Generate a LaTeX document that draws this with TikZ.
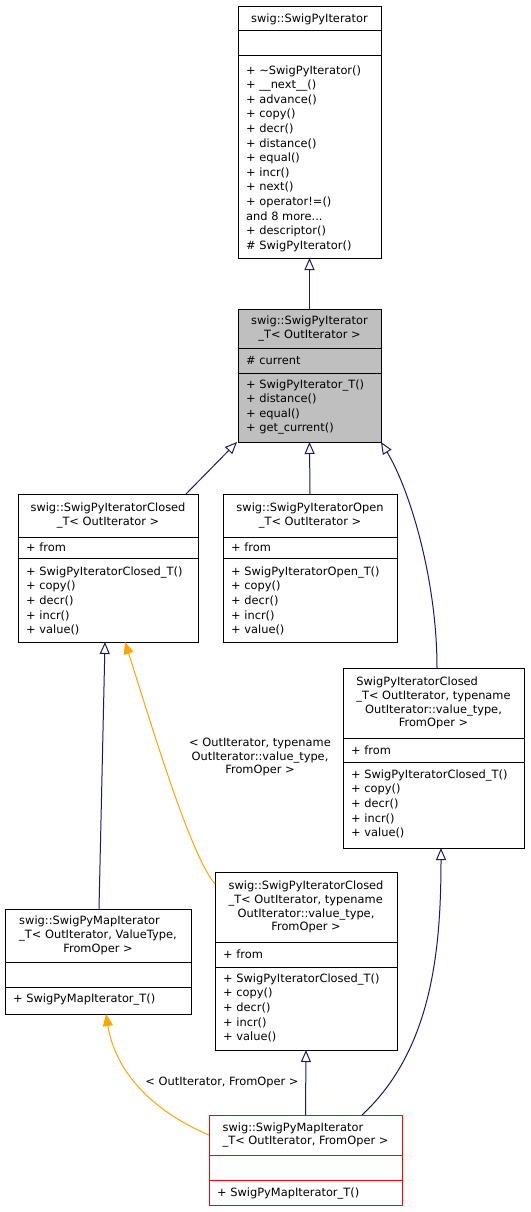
\documentclass[tikz,border=0pt]{standalone}
\usepackage{fontspec}
\setmainfont{DejaVu Sans}
\usepackage{calc}
\usetikzlibrary{arrows.meta,fit}
\definecolor{navy}{HTML}{191970}
\definecolor{orng}{HTML}{FFA500}
\definecolor{grayfill}{HTML}{BFBFBF}
\newcommand{\umlfont}{\fontsize{11.4}{14.6}\selectfont}
\newcommand{\ttlfont}{\fontsize{11.4}{13.8}\selectfont}
\begin{document}
\begin{tikzpicture}[x=1pt,y=-1pt,
 cls/.style={draw=black, line width=1pt, inner sep=0pt, outer sep=0pt},
 sepline/.style={draw=black, line width=1pt},
 ttl/.style={font=\ttlfont, inner sep=0pt, align=center},
 mem/.style={font=\umlfont, inner sep=0pt, align=left, anchor=west},
 inh/.style={draw=navy, line width=1pt, -{Triangle[open, length=12pt, width=10pt]}},
 tpl/.style={draw=orng, line width=1pt, -{Triangle[length=12pt, width=10pt, fill=orng]}},
 lbl/.style={font=\ttlfont, inner sep=0pt, align=center}]
\useasboundingbox[fill=white] (0,0) rectangle (530,1212);

% A
\node[cls, fit={(238,7) (381,258)}] (A) {};
\draw[sepline] (238,31) -- (381,31);
\draw[sepline] (238,56) -- (381,56);
\node[ttl] (At) at (309.5,19) {swig::SwigPyIterator};
\node[mem] (Am) at (246,158.5) {+ \textasciitilde SwigPyIterator()\\+ \_\_next\_\_()\\+ advance()\\+ copy()\\+ decr()\\+ distance()\\+ equal()\\+ incr()\\+ next()\\+ operator!=()\\and 8 more...\\+ descriptor()\\\# SwigPyIterator()};

% B
\node[cls, fill=grayfill, fit={(238,309) (381,442)}] (B) {};
\draw[sepline] (238,348) -- (381,348);
\draw[sepline] (238,373) -- (381,373);
\node[ttl] (Bt) at (309.5,328.5) {swig::SwigPyIterator\\\_T< OutIterator >};
\node[mem] (Ba) at (246,360.5) {\# current};
\node[mem] (Bm) at (246,407) {+ SwigPyIterator\_T()\\+ distance()\\+ equal()\\+ get\_current()};

% C
\node[cls, fit={(18,494) (198,642)}] (C) {};
\draw[sepline] (18,537) -- (198,537);
\draw[sepline] (18,558) -- (198,558);
\node[ttl] (Ct) at (108,515.5) {swig::SwigPyIteratorClosed\\\_T< OutIterator >};
\node[mem] (Ca) at (26,547.5) {+ from};
\node[mem] (Cm) at (26,601) {+ SwigPyIteratorClosed\_T()\\+ copy()\\+ decr()\\+ incr()\\+ value()};

% D
\node[cls, fit={(223,494) (397,642)}] (D) {};
\draw[sepline] (223,537) -- (397,537);
\draw[sepline] (223,558) -- (397,558);
\node[ttl] (Dt) at (310,515.5) {swig::SwigPyIteratorOpen\\\_T< OutIterator >};
\node[mem] (Da) at (231,547.5) {+ from};
\node[mem] (Dm) at (231,601) {+ SwigPyIteratorOpen\_T()\\+ copy()\\+ decr()\\+ incr()\\+ value()};

% E
\node[cls, fit={(343,668) (524,848)}] (E) {};
\draw[sepline] (343,738) -- (524,738);
\draw[sepline] (343,762) -- (524,762);
\node[ttl] (Et) at (433.5,703) {\makebox[\widthof{\_T< OutIterator, typename}][l]{SwigPyIteratorClosed}\\\_T< OutIterator, typename\\OutIterator::value\_type,\\FromOper >};
\node[mem] (Ea) at (351,750) {+ from};
\node[mem] (Em) at (351,804) {+ SwigPyIteratorClosed\_T()\\+ copy()\\+ decr()\\+ incr()\\+ value()};

% F
\node[cls, fit={(5,909) (191,1014)}] (F) {};
\draw[sepline] (5,962) -- (191,962);
\draw[sepline] (5,987) -- (191,987);
\node[ttl] (Ft) at (98,935.5) {\makebox[\widthof{\_T< OutIterator, ValueType,}][l]{swig::SwigPyMapIterator}\\\_T< OutIterator, ValueType,\\FromOper >};
\node[mem] (Fm) at (13,1000) {+ SwigPyMapIterator\_T()};

% G
\node[cls, fit={(215,872) (397,1050)}] (G) {};
\draw[sepline] (215,942) -- (397,942);
\draw[sepline] (215,967) -- (397,967);
\node[ttl] (Gt) at (306,907) {swig::SwigPyIteratorClosed\\\makebox[\widthof{swig::SwigPyIteratorClosed}][l]{\_T< OutIterator, typename}\\OutIterator::value\_type,\\FromOper >};
\node[mem] (Ga) at (223,954.5) {+ from};
\node[mem] (Gm) at (223,1008) {+ SwigPyIteratorClosed\_T()\\+ copy()\\+ decr()\\+ incr()\\+ value()};

% H
\node[cls, draw=red, fit={(209,1115) (402,1205)}] (H) {};
\draw[sepline, draw=red] (209,1155) -- (402,1155);
\draw[sepline, draw=red] (209,1180) -- (402,1180);
\node[ttl] (Ht) at (305.5,1135) {\makebox[\widthof{\_T< OutIterator, FromOper >}][l]{swig::SwigPyMapIterator}\\\_T< OutIterator, FromOper >};
\node[mem] (Hm) at (217,1193) {+ SwigPyMapIterator\_T()};

% connectors
\draw[inh] (B.north) -- (A.south);
\draw[inh] ([xshift=-12pt]C.north east) -- ([xshift=-1pt]B.south west);
\draw[inh] (D.north) -- (B.south);
\draw[inh] ([xshift=3.5pt]E.north) .. controls (437,580) and (410,490) .. (B.south east);
\draw[inh] ([xshift=1pt]F.north) -- ([xshift=-3pt]C.south);
\draw[tpl] ([yshift=-12pt]G.north west) .. controls (190,855) and (150,720) .. ([xshift=17pt]C.south);
\node[lbl] (L1) at (260,757) {< OutIterator, typename\\OutIterator::value\_type,\\FromOper >};
\draw[inh] (H.north) -- (G.south);
\draw[inh] ([xshift=-40pt]H.north east) .. controls (432,1050) and (441,950) .. ([xshift=7.5pt]E.south);
\draw[tpl] ([yshift=25pt]H.west) .. controls (150,1110) and (115,1070) .. ([xshift=8pt]F.south);
\node[lbl] (L2) at (222,1082) {< OutIterator, FromOper >};
\end{tikzpicture}
\end{document}
